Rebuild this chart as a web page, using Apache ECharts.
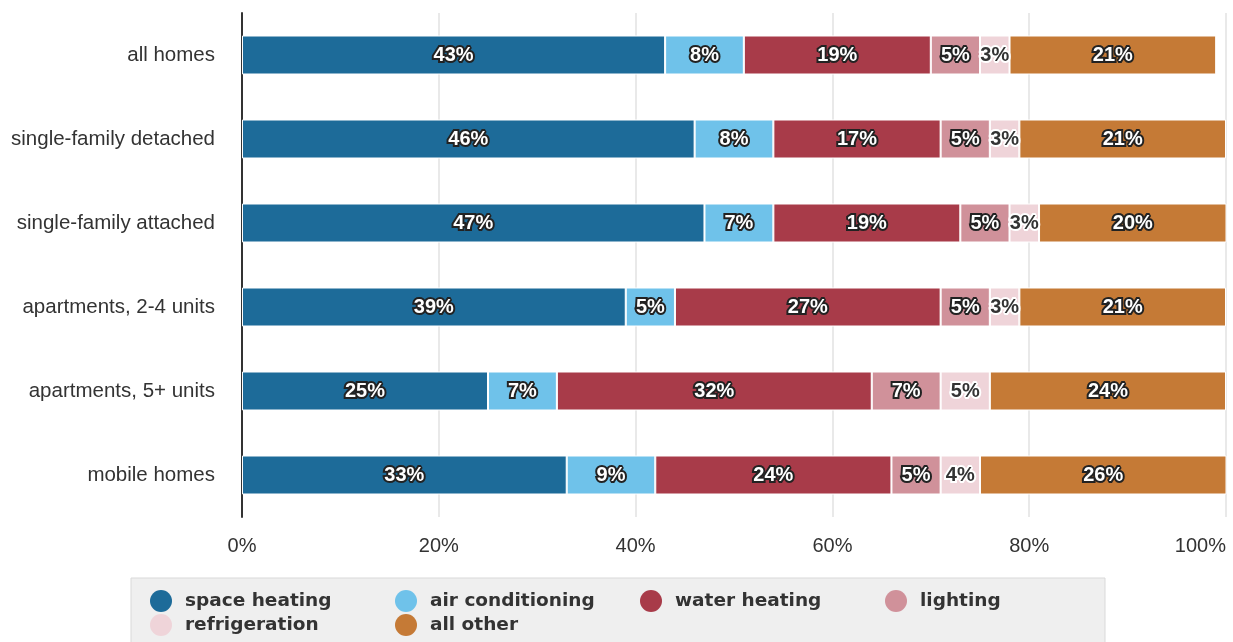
<!DOCTYPE html>
<html>
<head>
<meta charset="utf-8">
<script src="https://cdn.jsdelivr.net/npm/echarts@6/dist/echarts.min.js"></script>
<style>
html,body{margin:0;padding:0;background:#fff;}
#chart{width:1233px;height:642px;}
</style>
</head>
<body>
<div id="chart"></div>
<script>
const categories = ['all homes', 'single-family detached', 'single-family attached', 'apartments, 2-4 units', 'apartments, 5+ units', 'mobile homes'];
const seriesNames = ['space heating', 'air conditioning', 'water heating', 'lighting', 'refrigeration', 'all other'];
const spaceHeating = [43, 46, 47, 39, 25, 33];
const airConditioning = [8, 8, 7, 5, 7, 9];
const waterHeating = [19, 17, 19, 27, 32, 24];
const lighting = [5, 5, 5, 5, 7, 5];
const refrigeration = [3, 3, 3, 3, 5, 4];
const allOther = [21, 21, 20, 21, 24, 26];
const xTicks = [0, 20, 40, 60, 80, 100];
const colors = ['#1d6b99', '#6fc2ea', '#a83b49', '#d0919a', '#efd4d9', '#c57a36'];

const values = [spaceHeating, airConditioning, waterHeating, lighting, refrigeration, allOther];
const FONT = "'Liberation Sans', Arial, sans-serif";
const LEGEND_FONT = "'DejaVu Sans', Verdana, sans-serif";

const series = seriesNames.map((name, i) => {
  const light = name === 'refrigeration';
  return {
    name: name,
    type: 'bar',
    stack: 'total',
    barWidth: 39,
    data: values[i],
    itemStyle: { color: colors[i], borderColor: '#ffffff', borderWidth: 1 },
    label: {
      show: true,
      position: 'inside',
      formatter: '{c}%',
      fontFamily: FONT,
      fontSize: 20,
      fontWeight: 'bold',
      color: light ? '#333333' : '#ffffff',
      textBorderColor: light ? '#ffffff' : '#222222',
      textBorderWidth: 4
    },
    emphasis: { disabled: true }
  };
});

const legendData = seriesNames.map((n) => n === 'lighting'
  ? { name: n, textStyle: { width: 176 } }
  : { name: n });

const chart = echarts.init(document.getElementById('chart'), null, { renderer: 'canvas' });
chart.setOption({
  animation: false,
  backgroundColor: '#ffffff',
  color: colors,
  grid: { left: 242, right: 7, top: 13, bottom: 125, outerBoundsMode: 'none', containLabel: false },
  xAxis: {
    type: 'value',
    min: xTicks[0],
    max: xTicks[xTicks.length - 1],
    interval: 20,
    axisLine: { show: false },
    axisTick: { show: false },
    splitLine: { show: true, lineStyle: { color: '#e2e2e2', width: 1.5 } },
    axisLabel: {
      formatter: '{value}%',
      fontFamily: FONT,
      fontSize: 20,
      color: '#333333',
      margin: 19,
      alignMaxLabel: 'right'
    }
  },
  yAxis: {
    type: 'category',
    inverse: true,
    data: categories,
    axisLine: { show: true, lineStyle: { color: '#333333', width: 2 } },
    axisTick: { show: false },
    axisLabel: {
      fontFamily: FONT,
      fontSize: 20.5,
      color: '#333333',
      margin: 27
    }
  },
  legend: {
    left: 131,
    top: 578,
    orient: 'horizontal',
    width: 975,
    padding: [12, 9, 12, 19],
    backgroundColor: '#efefef',
    borderColor: '#d9d9d9',
    borderWidth: 1,
    icon: 'circle',
    itemWidth: 38,
    itemHeight: 22,
    itemGap: 2,
    itemStyle: { borderWidth: 0 },
    data: legendData,
    textStyle: {
      fontFamily: LEGEND_FONT,
      fontSize: 18.5,
      fontWeight: 'bold',
      color: '#333333',
      width: 208,
      lineHeight: 20,
      overflow: 'none'
    }
  },
  series: series
});
</script>
</body>
</html>
